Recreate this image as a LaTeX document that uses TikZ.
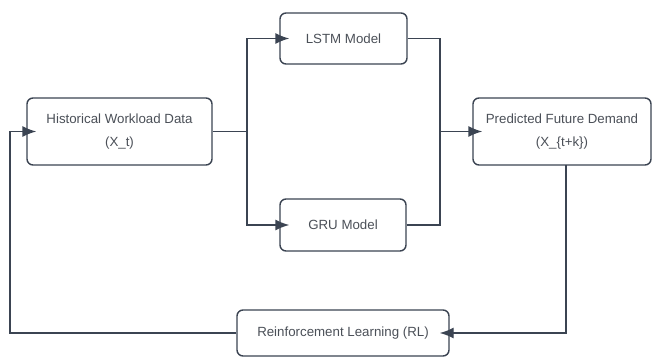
\documentclass[tikz,border=0pt]{standalone}
\usepackage{fontspec}
\setmainfont{Liberation Sans}
\usetikzlibrary{arrows.meta}
\definecolor{lineC}{HTML}{3B4452}
\definecolor{textC}{HTML}{4B5058}
\tikzset{
  box/.style={draw=lineC, line width=1.4pt, rounded corners=6pt, fill=white,
    text=textC, align=center, font=\fontsize{13.3}{23}\selectfont, inner sep=0pt},
  conn/.style={draw=lineC, line width=1.4pt},
  arr/.style={conn, -{Latex[length=14pt,width=11pt]}, shorten >=-10pt}
}
\begin{document}
\begin{tikzpicture}[x=1pt,y=-1pt]
\useasboundingbox (0,0) rectangle (653,358);
\node[box, minimum width=185pt, minimum height=67pt] (hist) at (119.5,131.5) {Historical Workload Data\\(X\_t)};
\node[box, minimum width=127pt, minimum height=51pt] (lstm) at (343.5,38.5) {LSTM Model};
\node[box, minimum width=126pt, minimum height=52pt] (gru) at (343,225) {GRU Model};
\node[box, minimum width=178pt, minimum height=67pt] (pred) at (562,131.5) {Predicted Future Demand\\(X\_\{t+k\})};
\node[box, minimum width=212pt, minimum height=46pt] (rl) at (343,333) {Reinforcement Learning (RL)};
\coordinate (j1) at (247,131.5);
\coordinate (j2) at (440,131.5);
\coordinate (fb) at (10,333);
\coordinate (pd) at (566,165);
\draw[conn] (hist.east) -- (j1);
\draw[arr] (j1) |- (lstm.west);
\draw[arr] (j1) |- (gru.west);
\draw[conn] (lstm.east) -| (j2);
\draw[conn] (gru.east) -| (j2);
\draw[arr] (j2) -- (pred.west);
\draw[arr] (pd) |- (rl.east);
\draw[arr] (rl.west) -- (fb) |- (hist.west);
\end{tikzpicture}
\end{document}
